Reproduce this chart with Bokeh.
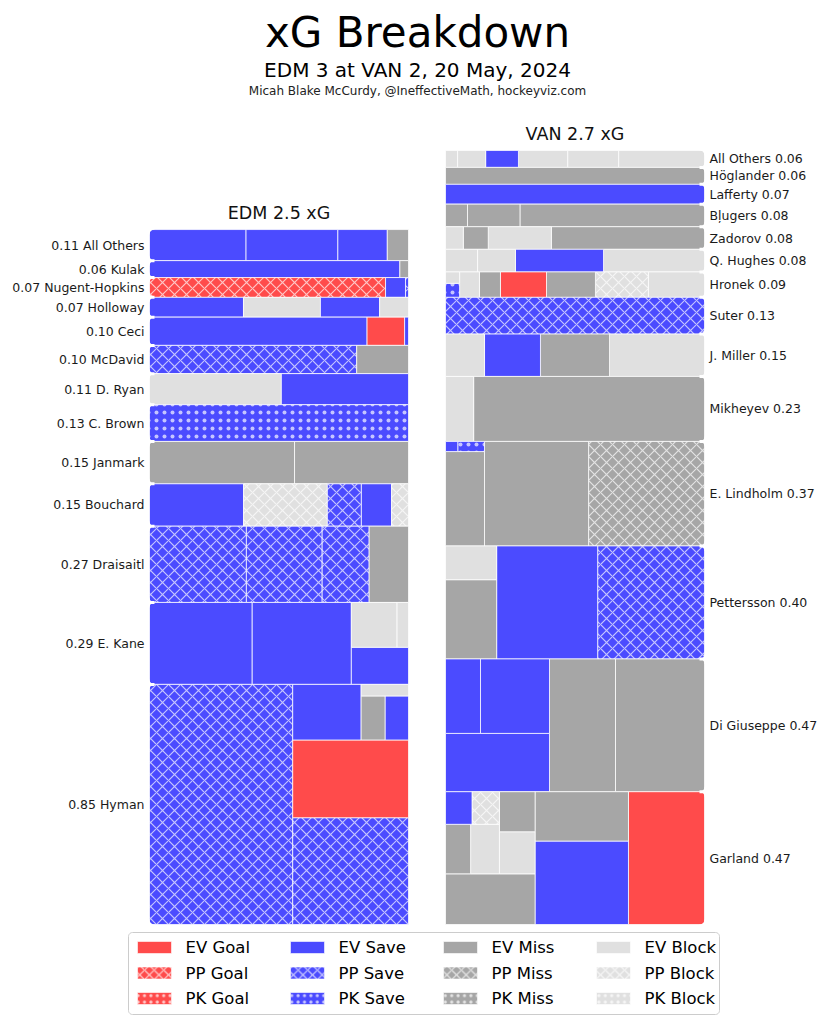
import numpy as np
from bokeh.plotting import figure
from bokeh.models import ColumnDataSource, Range1d
from bokeh.embed import file_html
from bokeh.resources import INLINE
from bokeh.core.properties import value, field

# ---------------- data ----------------
TITLE = "xG Breakdown"
SUBTITLE = "EDM 3 at VAN 2, 20 May, 2024"
CREDIT = "Micah Blake McCurdy, @IneffectiveMath, hockeyviz.com"

EDM_TEAM = "EDM"
EDM_PLAYERS = ["All Others", "Kulak", "Nugent-Hopkins", "Holloway", "Ceci", "McDavid",
               "D. Ryan", "C. Brown", "Janmark", "Bouchard", "Draisaitl", "E. Kane", "Hyman"]
EDM_SHOT_XG = [
    [0.041, 0.039, 0.021, 0.009],
    [0.058, 0.002],
    [0.0638, 0.0054, 0.0008],
    [0.0254, 0.0208, 0.016, 0.0078],
    [0.084, 0.0145, 0.0015],
    [0.080, 0.020],
    [0.056, 0.054],
    [0.13],
    [0.084, 0.066],
    [0.0545, 0.0485, 0.0197, 0.0175, 0.0098],
    [0.101, 0.079, 0.049, 0.041],
    [0.115, 0.111, 0.029, 0.028, 0.007],
    [0.47, 0.169, 0.123, 0.052, 0.0145, 0.014, 0.0075],
]
EDM_SHOT_TYPE = [
    ["EV Save", "EV Save", "EV Save", "EV Miss"],
    ["EV Save", "EV Miss"],
    ["PP Goal", "EV Save", "PP Save"],
    ["EV Save", "EV Block", "EV Save", "EV Block"],
    ["EV Save", "EV Goal", "EV Save"],
    ["PP Save", "EV Miss"],
    ["EV Block", "EV Save"],
    ["PK Save"],
    ["EV Miss", "EV Miss"],
    ["EV Save", "PP Block", "PP Save", "EV Save", "PP Block"],
    ["PP Save", "PP Save", "PP Save", "EV Miss"],
    ["EV Save", "EV Save", "EV Save", "EV Block", "EV Block"],
    ["PP Save", "PP Save", "EV Goal", "EV Save", "EV Miss", "EV Save", "EV Block"],
]

VAN_TEAM = "VAN"
VAN_PLAYERS = ["All Others", "Höglander", "Lafferty", "Bļugers", "Zadorov", "Q. Hughes",
               "Hronek", "Suter", "J. Miller", "Mikheyev", "E. Lindholm", "Pettersson",
               "Di Giuseppe", "Garland"]
VAN_SHOT_XG = [
    [0.0199, 0.0118, 0.0114, 0.0076, 0.0065, 0.0028],
    [0.06],
    [0.07],
    [0.057, 0.0162, 0.0068],
    [0.0473, 0.0195, 0.0077, 0.0055],
    [0.0312, 0.0272, 0.0117, 0.0099],
    [0.0195, 0.0184, 0.017, 0.016, 0.0073, 0.0069, 0.0027, 0.0022],
    [0.13],
    [0.055, 0.040, 0.0324, 0.0226],
    [0.205, 0.025],
    [0.1656, 0.1487, 0.0503, 0.0037, 0.0017],
    [0.165, 0.156, 0.0554, 0.0236],
    [0.1615, 0.1198, 0.0829, 0.0702, 0.0356],
    [0.138, 0.1065, 0.063, 0.062, 0.0205, 0.0195, 0.0195, 0.017, 0.0122, 0.0118],
]
VAN_SHOT_TYPE = [
    ["EV Block", "EV Block", "EV Block", "EV Save", "EV Block", "EV Block"],
    ["EV Miss"],
    ["EV Save"],
    ["EV Miss", "EV Miss", "EV Miss"],
    ["EV Miss", "EV Block", "EV Miss", "EV Block"],
    ["EV Block", "EV Save", "EV Block", "EV Block"],
    ["EV Block", "PP Block", "EV Miss", "EV Goal", "EV Miss", "EV Block", "PK Save", "EV Block"],
    ["PP Save"],
    ["EV Block", "EV Miss", "EV Save", "EV Block"],
    ["EV Miss", "EV Block"],
    ["PP Miss", "EV Miss", "EV Miss", "PK Save", "EV Save"],
    ["PP Save", "EV Save", "EV Miss", "EV Block"],
    ["EV Miss", "EV Miss", "EV Save", "EV Save", "EV Save"],
    ["EV Goal", "EV Save", "EV Miss", "EV Miss", "EV Block", "EV Miss", "EV Block",
     "EV Miss", "PP Block", "EV Save"],
]

STRENGTHS = ["EV", "PP", "PK"]
OUTCOMES = ["Goal", "Save", "Miss", "Block"]

# ---------------- styles ----------------
OUTCOME_COLOR = {"Goal": "#ff4b4b", "Save": "#4b4bff", "Miss": "#a6a6a6", "Block": "#e0e0e0"}
STRENGTH_HATCH = {"EV": " ", "PP": "x", "PK": "."}
STRENGTH_HSCALE = {"EV": 12, "PP": 12, "PK": 8}
STRENGTH_HWEIGHT = {"EV": 1.0, "PP": 1.2, "PK": 0.8}
FONT = "DejaVu Sans"

K = 282.5                 # px per xG
FIG_W, FIG_H = 828, 1024
OX, OY = 149, 924         # page px of data origin
PANEL_W = 259 / K
PANEL_X0 = {"EDM": 0.0, "VAN": (445 - OX) / K}


def px(xp):
    return (xp - OX) / K


def py(yp):
    return (OY - yp) / K


# ---------------- squarified treemap ----------------
def _layout(sizes, x, y, dx, dy):
    rects = []
    if dx >= dy:
        w = sum(sizes) / dy
        for s in sizes:
            rects.append((x, y, w, s / w))
            y += s / w
    else:
        h = sum(sizes) / dx
        for s in sizes:
            rects.append((x, y, s / h, h))
            x += s / h
    return rects


def _leftover(sizes, x, y, dx, dy):
    if dx >= dy:
        w = sum(sizes) / dy
        return x + w, y, dx - w, dy
    h = sum(sizes) / dx
    return x, y + h, dx, dy - h


def _worst(sizes, x, y, dx, dy):
    return max(max(r[2] / r[3], r[3] / r[2]) for r in _layout(sizes, x, y, dx, dy))


def squarify(sizes, x, y, dx, dy):
    if not sizes:
        return []
    if len(sizes) == 1:
        return _layout(sizes, x, y, dx, dy)
    i = 1
    while i < len(sizes) and _worst(sizes[:i], x, y, dx, dy) >= _worst(sizes[:i + 1], x, y, dx, dy):
        i += 1
    cur, rem = sizes[:i], sizes[i:]
    lx, ly, ldx, ldy = _leftover(cur, x, y, dx, dy)
    return _layout(cur, x, y, dx, dy) + squarify(rem, lx, ly, ldx, ldy)


def corner_mask(cx, cy, sx, sy, r, n=10):
    e = 1.5 / K
    ccx, ccy = cx + sx * r, cy + sy * r
    xs = [cx - sx * e, cx - sx * e, ccx]
    ys = [ccy, cy - sy * e, cy - sy * e]
    for a in np.linspace(np.pi / 2, 0, n):
        xs.append(ccx - sx * r * np.cos(a))
        ys.append(ccy - sy * r * np.sin(a))
    return xs, ys


# ---------------- figure ----------------
p = figure(width=FIG_W, height=FIG_H, output_backend="svg", toolbar_location=None,
           x_range=Range1d(px(0), px(FIG_W)), y_range=Range1d(py(FIG_H), py(0)),
           x_axis_location=None, y_axis_location=None, min_border=0)
p.grid.visible = False
p.outline_line_color = None
p.background_fill_color = "white"

shots = dict(left=[], right=[], bottom=[], top=[], color=[], hatch=[], hscale=[], hweight=[])
mask_xs, mask_ys = [], []
lab = {"EDM": dict(x=[], y=[], text=[]), "VAN": dict(x=[], y=[], text=[])}
head = dict(x=[], y=[], text=[])

teams = [(EDM_TEAM, EDM_PLAYERS, EDM_SHOT_XG, EDM_SHOT_TYPE, False),
         (VAN_TEAM, VAN_PLAYERS, VAN_SHOT_XG, VAN_SHOT_TYPE, True)]
R = 5 / K
for team, players, xgs, types, mirror in teams:
    x0 = PANEL_X0[team]
    totals = [sum(v) for v in xgs]
    for i, (name, vals, tps) in enumerate(zip(players, xgs, types)):
        h = totals[i]
        yb = sum(totals[i + 1:])
        tot = sum(vals)
        norm = [v * PANEL_W * h / tot for v in vals]
        for (rx, ry, rdx, rdy), t in zip(squarify(norm, 0.0, 0.0, PANEL_W, h), tps):
            st, oc = t.split(" ")
            left = x0 + PANEL_W - rx - rdx if mirror else x0 + rx
            shots["left"].append(left)
            shots["right"].append(left + rdx)
            shots["bottom"].append(yb + ry)
            shots["top"].append(yb + ry + rdy)
            shots["color"].append(OUTCOME_COLOR[oc])
            shots["hatch"].append(STRENGTH_HATCH[st])
            shots["hscale"].append(STRENGTH_HSCALE[st])
            shots["hweight"].append(STRENGTH_HWEIGHT[st])
        if mirror:
            cx, sx = x0 + PANEL_W, -1
            lab[team]["x"].append(cx + 5 / K)
            lab[team]["text"].append(f"{name} {h:.2f}")
        else:
            cx, sx = x0, 1
            lab[team]["x"].append(cx - 5 / K)
            lab[team]["text"].append(f"{h:.2f} {name}")
        lab[team]["y"].append(yb + h / 2)
        for cy, sy in ((yb, 1), (yb + h, -1)):
            mx, my = corner_mask(cx, cy, sx, sy, R)
            mask_xs.append(mx)
            mask_ys.append(my)
    head["x"].append(x0 + PANEL_W / 2)
    head["y"].append(sum(totals) + 16.5 / K)
    head["text"].append(f"{team} {sum(totals):.1f} xG")

src = ColumnDataSource(shots)
p.quad(left="left", right="right", bottom="bottom", top="top", source=src,
       fill_color=field("color"), hatch_pattern=field("hatch"), hatch_scale=field("hscale"),
       hatch_weight=field("hweight"), hatch_color="white", hatch_alpha=0.68,
       line_color="white", line_alpha=0.75, line_width=1)
p.patches(xs=mask_xs, ys=mask_ys, fill_color="white", line_color=None)

p.text(x="x", y="y", text="text", source=ColumnDataSource(lab["EDM"]),
       text_font=value(FONT), text_font_size=value("12.5px"), text_color="#1a1a1a",
       text_align="right", text_baseline="middle")
p.text(x="x", y="y", text="text", source=ColumnDataSource(lab["VAN"]),
       text_font=value(FONT), text_font_size=value("12.5px"), text_color="#1a1a1a",
       text_align="left", text_baseline="middle")
p.text(x="x", y="y", text="text", source=ColumnDataSource(head),
       text_font=value(FONT), text_font_size=value("17.5px"), text_color="#111111",
       text_align="center", text_baseline="middle")

# titles (vertical middles of the text lines)
cxp = px(417)
p.text(x=[cxp], y=[py(32)], text=[TITLE], text_font=value(FONT), text_font_size=value("42px"),
       text_color="black", text_align="center", text_baseline="middle")
p.text(x=[cxp], y=[py(69)], text=[SUBTITLE], text_font=value(FONT), text_font_size=value("20px"),
       text_color="black", text_align="center", text_baseline="middle")
p.text(x=[cxp], y=[py(90.5)], text=[CREDIT], text_font=value(FONT), text_font_size=value("12px"),
       text_color="#222222", text_align="center", text_baseline="middle")

# legend (manual grid: columns = outcomes, rows = strengths)
BX0, BX1, BY0, BY1, BR = 128, 719, 932, 1014, 4
bx, by = [], []
for (ccx, ccy, a0) in ((BX1 - BR, BY0 + BR, 0), (BX0 + BR, BY0 + BR, 90),
                       (BX0 + BR, BY1 - BR, 180), (BX1 - BR, BY1 - BR, 270)):
    for a in np.linspace(a0, a0 + 90, 8):
        bx.append(px(ccx + BR * np.cos(np.radians(a))))
        by.append(py(ccy - BR * np.sin(np.radians(a))))
p.patch(bx, by, fill_color="white", line_color="#cccccc", line_width=1)

leg = dict(left=[], right=[], bottom=[], top=[], color=[], hatch=[], hscale=[], hweight=[])
legt = dict(x=[], y=[], text=[])
for c, oc in enumerate(OUTCOMES):
    for r, st in enumerate(STRENGTHS):
        gx = 137 + 153 * c
        gy = 947 + 25.5 * r
        leg["left"].append(px(gx))
        leg["right"].append(px(gx + 34))
        leg["bottom"].append(py(gy + 6))
        leg["top"].append(py(gy - 6))
        leg["color"].append(OUTCOME_COLOR[oc])
        leg["hatch"].append(STRENGTH_HATCH[st])
        leg["hscale"].append(STRENGTH_HSCALE[st] * 0.8)
        leg["hweight"].append(STRENGTH_HWEIGHT[st])
        legt["x"].append(px(gx + 48))
        legt["y"].append(py(gy))
        legt["text"].append(f"{st} {oc}")
p.quad(left="left", right="right", bottom="bottom", top="top", source=ColumnDataSource(leg),
       fill_color=field("color"), hatch_pattern=field("hatch"), hatch_scale=field("hscale"),
       hatch_weight=field("hweight"), hatch_color="white", hatch_alpha=0.7,
       line_color="white", line_alpha=0.6, line_width=1)
p.text(x="x", y="y", text="text", source=ColumnDataSource(legt),
       text_font=value(FONT), text_font_size=value("16.5px"), text_color="black",
       text_align="left", text_baseline="middle")

open("out.html", "w").write(file_html(p, INLINE))
